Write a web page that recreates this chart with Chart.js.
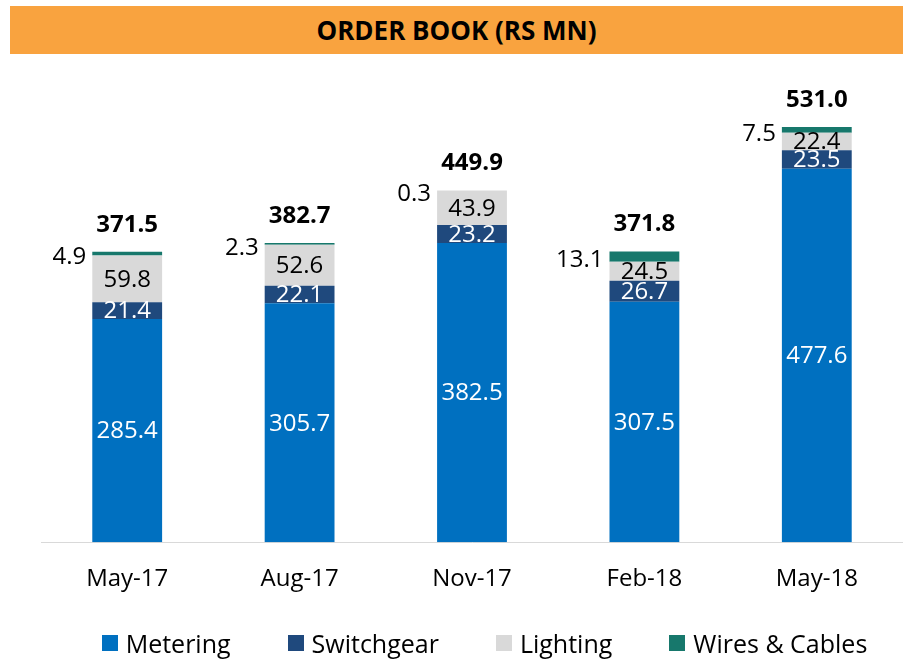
<!DOCTYPE html>
<html>
<head>
<meta charset="utf-8">
<script src="https://cdn.jsdelivr.net/npm/chart.js@4.4.1/dist/chart.umd.min.js"></script>
<style>
  body { margin: 0; background: #fff; font-family: "Open Sans", Lato, sans-serif; }
  #wrap { position: relative; width: 903px; height: 660px; overflow: hidden; }
  #banner {
    position: absolute; left: 10px; top: 6px; width: 893px; height: 48px;
    background: #F9A33F; color: #000; font-weight: bold; font-size: 26px;
    display: flex; align-items: center; justify-content: center;
  }
  #chart { position: absolute; left: 0; top: 0; }
  #legend {
    position: absolute; left: 66px; top: 628px; width: 837px; height: 30px;
    display: flex; justify-content: center; align-items: center; gap: 57px;
    font-size: 25px; color: #000; white-space: nowrap;
  }
  #legend span.item { display: flex; align-items: center; }
  #legend span.box { width: 16px; height: 16px; margin-right: 8px; display: inline-block; }
</style>
</head>
<body>
<div id="wrap">
  <div id="banner">ORDER BOOK (RS MN)</div>
  <canvas id="chart" width="903" height="660"></canvas>
  <div id="legend"></div>
</div>
<script>
// Order book by segment (Rs mn)
const quarters = ['May-17', 'Aug-17', 'Nov-17', 'Feb-18', 'May-18'];
const metering = [285.4, 305.7, 382.5, 307.5, 477.6];
const switchgear = [21.4, 22.1, 23.2, 26.7, 23.5];
const lighting = [59.8, 52.6, 43.9, 24.5, 22.4];
const wiresCables = [4.9, 2.3, 0.3, 13.1, 7.5];
const totals = [371.5, 382.7, 449.9, 371.8, 531.0];

const FONT = '"Open Sans", Lato, sans-serif';

// draws the numbers on the segments, wires label to the left, total on top
const labelPlugin = {
    id: 'segLabels',
    afterDatasetsDraw(chart) {
        const ctx = chart.ctx;
        ctx.save();
        ctx.font = '24px ' + FONT;
        ctx.textBaseline = 'middle';
        chart.data.datasets.forEach((ds, i) => {
            const meta = chart.getDatasetMeta(i);
            meta.data.forEach((bar, j) => {
                const v = ds.data[j];
                const midY = (bar.y + bar.base) / 2;
                ctx.fillStyle = ds.labelColor;
                if (ds.labelSide) {
                    ctx.textAlign = 'right';
                    ctx.fillText(v.toFixed(1), bar.x - bar.width / 2 - 6, midY + 4);
                } else {
                    ctx.textAlign = 'center';
                    ctx.fillText(v.toFixed(1), bar.x, midY + 1);
                }
            });
        });
        // totals
        const last = chart.getDatasetMeta(chart.data.datasets.length - 1);
        ctx.font = 'bold 24px ' + FONT;
        ctx.fillStyle = '#000';
        ctx.textAlign = 'center';
        ctx.textBaseline = 'bottom';
        last.data.forEach((bar, j) => {
            ctx.fillText(totals[j].toFixed(1), bar.x, bar.y - 15);
        });
        ctx.restore();
    }
};

const ctx = document.getElementById('chart').getContext('2d');

const chart = new Chart(ctx, {
    type: 'bar',
    data: {
        labels: quarters,
        datasets: [
            { label: 'Metering', data: metering, backgroundColor: '#0070C0', labelColor: '#fff' },
            { label: 'Switchgear', data: switchgear, backgroundColor: '#1F497D', labelColor: '#fff' },
            { label: 'Lighting', data: lighting, backgroundColor: '#D9D9D9', labelColor: '#000' },
            { label: 'Wires & Cables', data: wiresCables, backgroundColor: '#17786C', labelColor: '#000', labelSide: true }
        ]
    },
    options: {
        responsive: false,
        animation: false,
        layout: { padding: { left: 41, right: 0, top: 73, bottom: 43 } },
        datasets: { bar: { categoryPercentage: 1, barPercentage: 0.405 } },
        scales: {
            x: {
                stacked: true,
                grid: { display: false, drawTicks: false },
                border: { display: true, color: '#D9D9D9', width: 1 },
                ticks: { color: '#000', padding: 23, font: { size: 24, family: FONT } }
            },
            y: {
                stacked: true,
                display: false,
                min: 0,
                max: 600
            }
        },
        plugins: {
            legend: { display: false },
            tooltip: { enabled: false }
        }
    },
    plugins: [labelPlugin]
});

// legend built from the datasets
const legendDiv = document.getElementById('legend');
chart.data.datasets.forEach(ds => {
    const item = document.createElement('span');
    item.className = 'item';
    const box = document.createElement('span');
    box.className = 'box';
    box.style.background = ds.backgroundColor;
    item.appendChild(box);
    item.appendChild(document.createTextNode(ds.label));
    legendDiv.appendChild(item);
});
console.log(chart.chartArea);
</script>
</body>
</html>
